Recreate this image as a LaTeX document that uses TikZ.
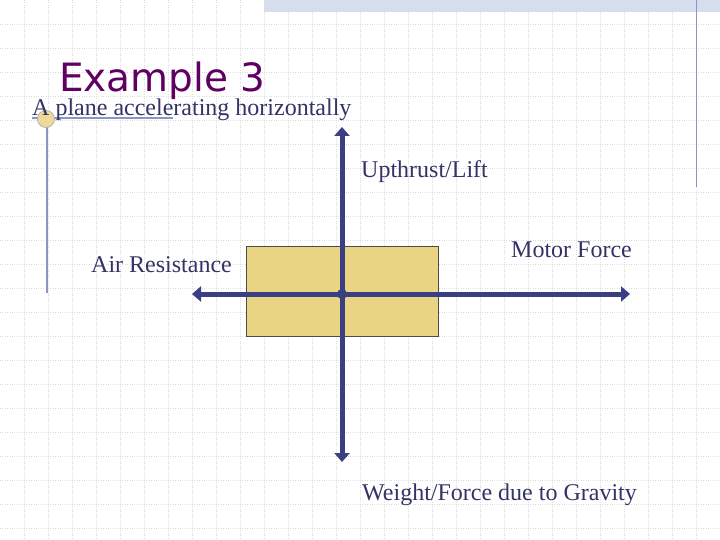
\documentclass[tikz,border=0pt]{standalone}
\usepackage{fontspec}
\setmainfont{Liberation Serif}
\newfontfamily\titlefont{DejaVu Sans}
\usetikzlibrary{arrows.meta}
\definecolor{gridc}{RGB}{218,218,222}
\definecolor{bandc}{RGB}{214,222,238}
\definecolor{deco}{RGB}{136,150,192}
\definecolor{navy}{RGB}{58,62,130}
\definecolor{txt}{RGB}{51,51,102}
\definecolor{titlec}{RGB}{96,0,96}
\definecolor{planec}{RGB}{232,212,130}
\definecolor{knob}{RGB}{238,218,150}
\tikzset{
  force/.style={line width=5pt, draw=navy, -{Triangle[width=15pt,length=9pt]}},
  label/.style={anchor=base west, inner sep=0pt, text=txt, font=\fontsize{24}{28}\selectfont},
  decoline/.style={draw=deco, line width=1.2pt},
}
\begin{document}
\begin{tikzpicture}[x=1pt,y=-1pt]
\useasboundingbox (0,0) rectangle (720,540);
\fill[white] (0,0) rectangle (720,540);
% grid
\foreach \i in {1,...,29} \draw[gridc, line width=0.7pt, dash pattern=on 1pt off 1.4pt] (\i*24,0) -- (\i*24,540);
\foreach \j in {1,...,22} \draw[gridc, line width=0.7pt, dash pattern=on 1pt off 1.4pt] (0,\j*24) -- (720,\j*24);
% top band
\fill[bandc] (264,0) rectangle (720,12);
% decorative lines
\draw[decoline] (696.5,0) -- (696.5,187);
\draw[decoline] (32,118) -- (173,118);
\draw[decoline] (47,119) -- (47,293);
\node[circle, minimum size=17pt, inner sep=0pt, fill=knob, draw=gray!60, line width=0.8pt] (knob) at (46,119) {};
% title
\node[anchor=base west, inner sep=0pt, text=titlec, font=\titlefont\fontsize{39}{44}\selectfont] (title) at (59,92) {Example 3};
\node[label] (sub) at (32,116) {A plane accelerating horizontally};
% plane
\node[draw=black!70, line width=0.8pt, fill=planec, minimum width=192pt, minimum height=90pt, inner sep=0pt] (plane) at (342,291) {};
\coordinate (c) at (342,294);
\coordinate (up) at (342,127);
\coordinate (down) at (342,462);
\coordinate (left) at (192,294);
\coordinate (right) at (630,294);
\draw[force] (c) -- (up);
\draw[force] (c) -- (down);
\draw[force] (c) -- (left);
\draw[force] (c) -- (right);
\node[circle, fill=navy, minimum size=10pt, inner sep=0pt] (dot) at (c) {};
% labels
\node[label] (lift) at (361,178) {Upthrust/Lift};
\node[label] (motor) at (511,257) {Motor Force};
\node[label] (air) at (91,272) {Air Resistance};
\node[label] (weight) at (362,500) {Weight/Force due to Gravity};
\end{tikzpicture}
\end{document}
